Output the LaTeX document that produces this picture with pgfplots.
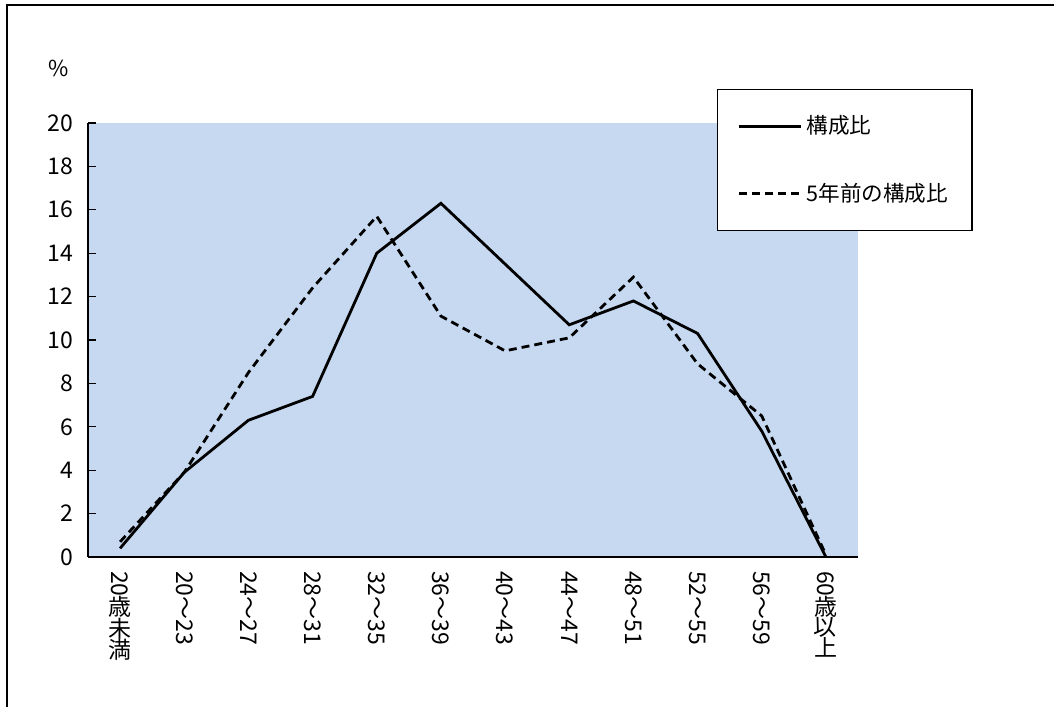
\documentclass[border=0pt]{standalone}
\usepackage{pgfplots}
\pgfplotsset{compat=1.18}
\usepackage{fontspec}
\setmainfont{Noto Sans CJK JP}
\definecolor{bgblue}{RGB}{198,217,240}
\newcommand{\up}[1]{\rotatebox[origin=c]{90}{#1}}
\begin{document}
\begin{tikzpicture}
\path[use as bounding box] (0,0) rectangle (527pt,353.5pt);
\draw[line width=1pt] (3.5pt,0) -- (3.5pt,351pt) -- (527pt,351pt);
\node[font=\fontsize{11}{13}\selectfont] at (29.5pt,319.5pt) {\%};
\begin{axis}[
    at={(44pt,75pt)}, anchor=south west,
    scale only axis, width=385pt, height=217pt,
    axis background/.style={fill=bgblue},
    axis lines=left, axis line style={-, line width=0.8pt},
    tick align=inside, major tick length=4pt,
    xmin=-0.5, xmax=11.5, ymin=0, ymax=20,
    ytick={0,2,...,20},
    xtick={0,...,11},
    xticklabels={{20\up{歳}\up{未}\up{満}},20〜23,24〜27,28〜31,32〜35,36〜39,40〜43,44〜47,48〜51,52〜55,56〜59,{60\up{歳}\up{以}\up{上}}},
    x tick style={draw=none},
    minor xtick={-0.5,0.5,...,11.5},
    minor tick length=4pt,
    minor x tick style={black, line width=0.6pt},
    y tick style={black, line width=0.6pt},
    xticklabel style={rotate=-90, anchor=west, xshift=3.5pt},
    yticklabel style={xshift=-4pt},
    tick label style={font=\fontsize{11.5}{13}\selectfont},
    /pgf/number format/assume math mode=true,
    legend style={at={(0.817,1.078)}, anchor=north west, draw=black, line width=0.6pt,
        inner xsep=10pt, inner ysep=11pt, row sep=19pt,
        font=\fontsize{10.8}{12}\selectfont},
    legend cell align=left,
    legend image code/.code={\draw[#1] (0pt,0pt) -- (31pt,0pt);},
]
\addplot[black, line width=1.4pt] coordinates {
    (0,0.4) (1,3.9) (2,6.3) (3,7.4) (4,14.0) (5,16.3)
    (6,13.5) (7,10.7) (8,11.8) (9,10.3) (10,5.8) (11,0.0)
};
\addlegendentry{構成比}
\addplot[black, line width=1.4pt, dash pattern=on 4pt off 2.5pt] coordinates {
    (0,0.7) (1,3.9) (2,8.5) (3,12.4) (4,15.7) (5,11.1)
    (6,9.5) (7,10.1) (8,12.9) (9,8.9) (10,6.5) (11,0.1)
};
\addlegendentry{5年前の構成比}
\end{axis}
\end{tikzpicture}
\end{document}
